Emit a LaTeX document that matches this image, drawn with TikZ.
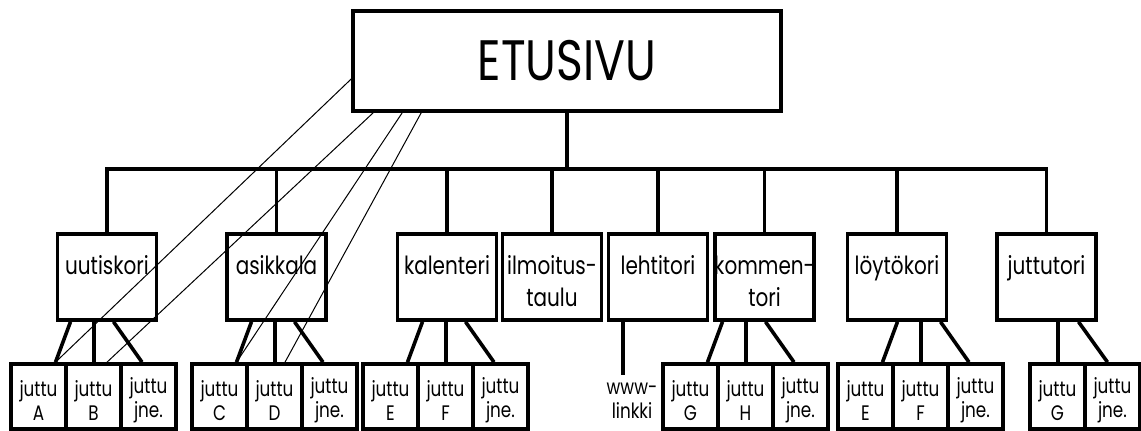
\documentclass[tikz,border=0pt]{standalone}
\usepackage{fontspec}
\setmainfont{Poppins}[FakeStretch=0.8]
\usetikzlibrary{calc}

\tikzset{
  pagebox/.style={draw, line width=1.8pt},
  topbox/.style={pagebox, minimum width=214pt, minimum height=50pt, font=\fontsize{28.5}{30}\selectfont},
  midbox/.style={pagebox, minimum width=49.5pt, minimum height=43pt, label={[midtext]north:{#1}}},
  midtext/.style={anchor=north, yshift=-11.5pt, align=center, inner sep=0pt, font=\fontsize{12.5}{16}\selectfont},
  leaftext/.style={inner sep=0pt, align=center, font=\fontsize{10.5}{12}\selectfont},
  leaf/.style={pagebox, minimum width=27.5pt, minimum height=32.5pt, label={[leaftext, yshift=-2pt]center:{#1}}},
  treeline/.style={line width=1.8pt},
  xlink/.style={line width=0.5pt},
}

\begin{document}
\begin{tikzpicture}[x=0.5pt, y=-0.5pt, line join=miter]
	\useasboundingbox (0,0) rectangle (1141,431);
	% etusivu
	\node[topbox] (etusivu) at (567,61) {ETUSIVU};
	\coordinate (bar) at (0,169);
	% alasivut
	\node[midbox=uutiskori] (uutis) at (107,277) {};
	\node[midbox=asikkala] (asik) at (276.5,277) {};
	\node[midbox=kalenteri] (kal) at (447,277) {};
	\node[midbox={ilmoitus-\\taulu}] (ilmo) at (552,277) {};
	\node[midbox=lehtitori] (lehti) at (658,277) {};
	\node[midbox={kommen-\\tori}] (komm) at (764.5,277) {};
	\node[midbox=löytökori] (loyto) at (897,277) {};
	\node[midbox=juttutori] (jtori) at (1046.5,277) {};
	\foreach \m in {uutis,asik,kal,ilmo,lehti,komm,loyto,jtori}
		\draw[treeline] (etusivu.south) -- (etusivu.south |- bar) -| (\m.north);
	% jutut
	\node[leaf={juttu\\A}] (uA) at (38.5,396.5) {};
	\node[leaf={juttu\\B}] (uB) at (93.5,396.5) {};
	\node[leaf={juttu\\jne.}] (uj) at (148.5,396.5) {};
	\node[leaf={juttu\\C}] (aC) at (219.5,396.5) {};
	\node[leaf={juttu\\D}] (aD) at (274.5,396.5) {};
	\node[leaf={juttu\\jne.}] (aj) at (329.5,396.5) {};
	\node[leaf={juttu\\E}] (kE) at (390.5,396.5) {};
	\node[leaf={juttu\\F}] (kF) at (445.5,396.5) {};
	\node[leaf={juttu\\jne.}] (kj) at (500.5,396.5) {};
	\node[leaftext] (www) at (632,401) {www-\\linkki};
	\node[leaf={juttu\\G}] (mG) at (690.5,396.5) {};
	\node[leaf={juttu\\H}] (mH) at (745.5,396.5) {};
	\node[leaf={juttu\\jne.}] (mj) at (800.5,396.5) {};
	\node[leaf={juttu\\E}] (lE) at (865.5,396.5) {};
	\node[leaf={juttu\\F}] (lF) at (920.5,396.5) {};
	\node[leaf={juttu\\jne.}] (lj) at (975.5,396.5) {};
	\node[leaf={juttu\\G}] (jG) at (1057.5,396.5) {};
	\node[leaf={juttu\\jne.}] (jj) at (1112.5,396.5) {};
	\foreach \m/\l/\c/\r in {uutis/uA/uB/uj, asik/aC/aD/aj, kal/kE/kF/kj, komm/mG/mH/mj, loyto/lE/lF/lj} {
		\draw[treeline] ($(\c.north |- \m.south)+(-23,0)$) -- ($(\l.north)+(17,0)$);
		\draw[treeline] ($(\c.north |- \m.south)+(0.5,0)$) -- ($(\c.north)+(0.5,0)$);
		\draw[treeline] ($(\c.north |- \m.south)+(20,0)$) -- ($(\r.north)+(-6.5,0)$);
	}
	\draw[treeline] ($(jG.north |- jtori.south)+(0.5,0)$) -- ($(jG.north)+(0.5,0)$);
	\draw[treeline] ($(jG.north |- jtori.south)+(21,0)$) -- ($(jj.north)+(-5,0)$);
	\draw[treeline] ($(lehti.south)+(-35,0)$) -- ($(www.north)+(-9,-8)$);
	% linkit etusivulta
	\draw[xlink] ($(etusivu.west)+(0,18)$) -- ($(uA.north)+(17,0)$);
	\draw[xlink] ($(etusivu.south west)+(22,0)$) -- ($(uB.north)+(13.5,0)$);
	\draw[xlink] ($(etusivu.south west)+(51,0)$) -- ($(aC.north)+(17,0)$);
	\draw[xlink] ($(etusivu.south west)+(70,0)$) -- ($(aD.north)+(10.5,0)$);
\end{tikzpicture}
\end{document}
